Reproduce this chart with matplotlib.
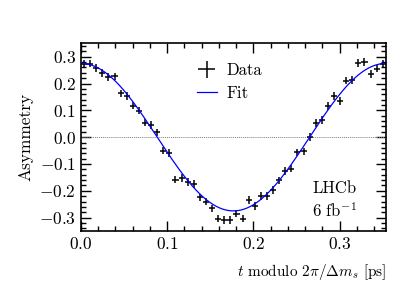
import numpy as np
import matplotlib
matplotlib.use("Agg")
import matplotlib.pyplot as plt
from matplotlib.ticker import MultipleLocator

plt.rcParams.update({
    "font.family": "serif", "font.serif": ["cmr10"],
    "mathtext.fontset": "cm", "axes.formatter.use_mathtext": True,
    "font.size": 12, "axes.unicode_minus": True,
})

dm_s = 17.766
period = 2 * np.pi / dm_s
n_bins = 50
bin_w = period / n_bins

# asymmetry per bin
asym = [0.274, 0.274, 0.258, 0.239, 0.224, 0.227, 0.163, 0.153, 0.118, 0.099,
        0.054, 0.045, 0.018, -0.050, -0.060, -0.158, -0.153, -0.168, -0.174, -0.225,
        -0.240, -0.266, -0.304, -0.308, -0.308, -0.285, -0.304, -0.235, -0.257, -0.219,
        -0.219, -0.197, -0.161, -0.126, -0.117, -0.057, -0.053, 0.001, 0.052, 0.064,
        0.116, 0.153, 0.134, 0.211, 0.214, 0.277, 0.281, 0.235, 0.256, 0.274]
asym_err = [0.014] * n_bins
fit_amp = 0.275

t = (np.arange(n_bins) + 0.5) * bin_w
tt = np.linspace(0, period, 400)

fig = plt.figure(figsize=(4.07, 2.90), dpi=100)
ax = fig.add_axes([0.199, 0.2034, 0.749, 0.6473])

ax.axhline(0, color="grey", lw=0.7, ls=(0, (1, 1)))
h_data = ax.errorbar(t, asym, xerr=bin_w / 2, yerr=asym_err, fmt="none",
                     ecolor="black", elinewidth=1.1, capsize=0, label="Data")
h_fit, = ax.plot(tt, fit_amp * np.cos(dm_s * tt), color="blue", lw=0.9, label="Fit")

ax.set_xlim(0, period)
ax.set_ylim(-0.35, 0.35)
ax.xaxis.set_major_locator(MultipleLocator(0.1))
ax.xaxis.set_minor_locator(MultipleLocator(0.02))
ax.yaxis.set_major_locator(MultipleLocator(0.1))
ax.yaxis.set_minor_locator(MultipleLocator(0.02))
ax.xaxis.set_major_formatter(lambda v, p: f"${v:.1f}$")
ax.yaxis.set_major_formatter(lambda v, p: f"${v:.1f}$")
ax.tick_params(which="both", direction="in", top=True, right=True, width=1.0,
               labelsize=12.5)
ax.tick_params(which="major", length=7)
ax.tick_params(which="minor", length=3.5)
for s in ax.spines.values():
    s.set_linewidth(1.2)

ax.set_ylabel("Asymmetry", fontsize=12.5)
ax.set_xlabel(r"$t$ modulo $2\pi/\mathit{\Delta} m_s$ [ps]", loc="right",
              fontsize=11, labelpad=7)

ax.legend([h_data, h_fit], ["Data", "Fit"], loc="upper left",
          bbox_to_anchor=(0.33, 0.975), frameon=False,
          handlelength=1.2, handletextpad=0.6, labelspacing=0.45)

ax.text(0.905, 0.225, "LHCb", transform=ax.transAxes, ha="right", va="center")
ax.text(0.905, 0.11, r"6 fb$^{-1}$", transform=ax.transAxes, ha="right", va="center")

fig.savefig("out.png", dpi=100)
